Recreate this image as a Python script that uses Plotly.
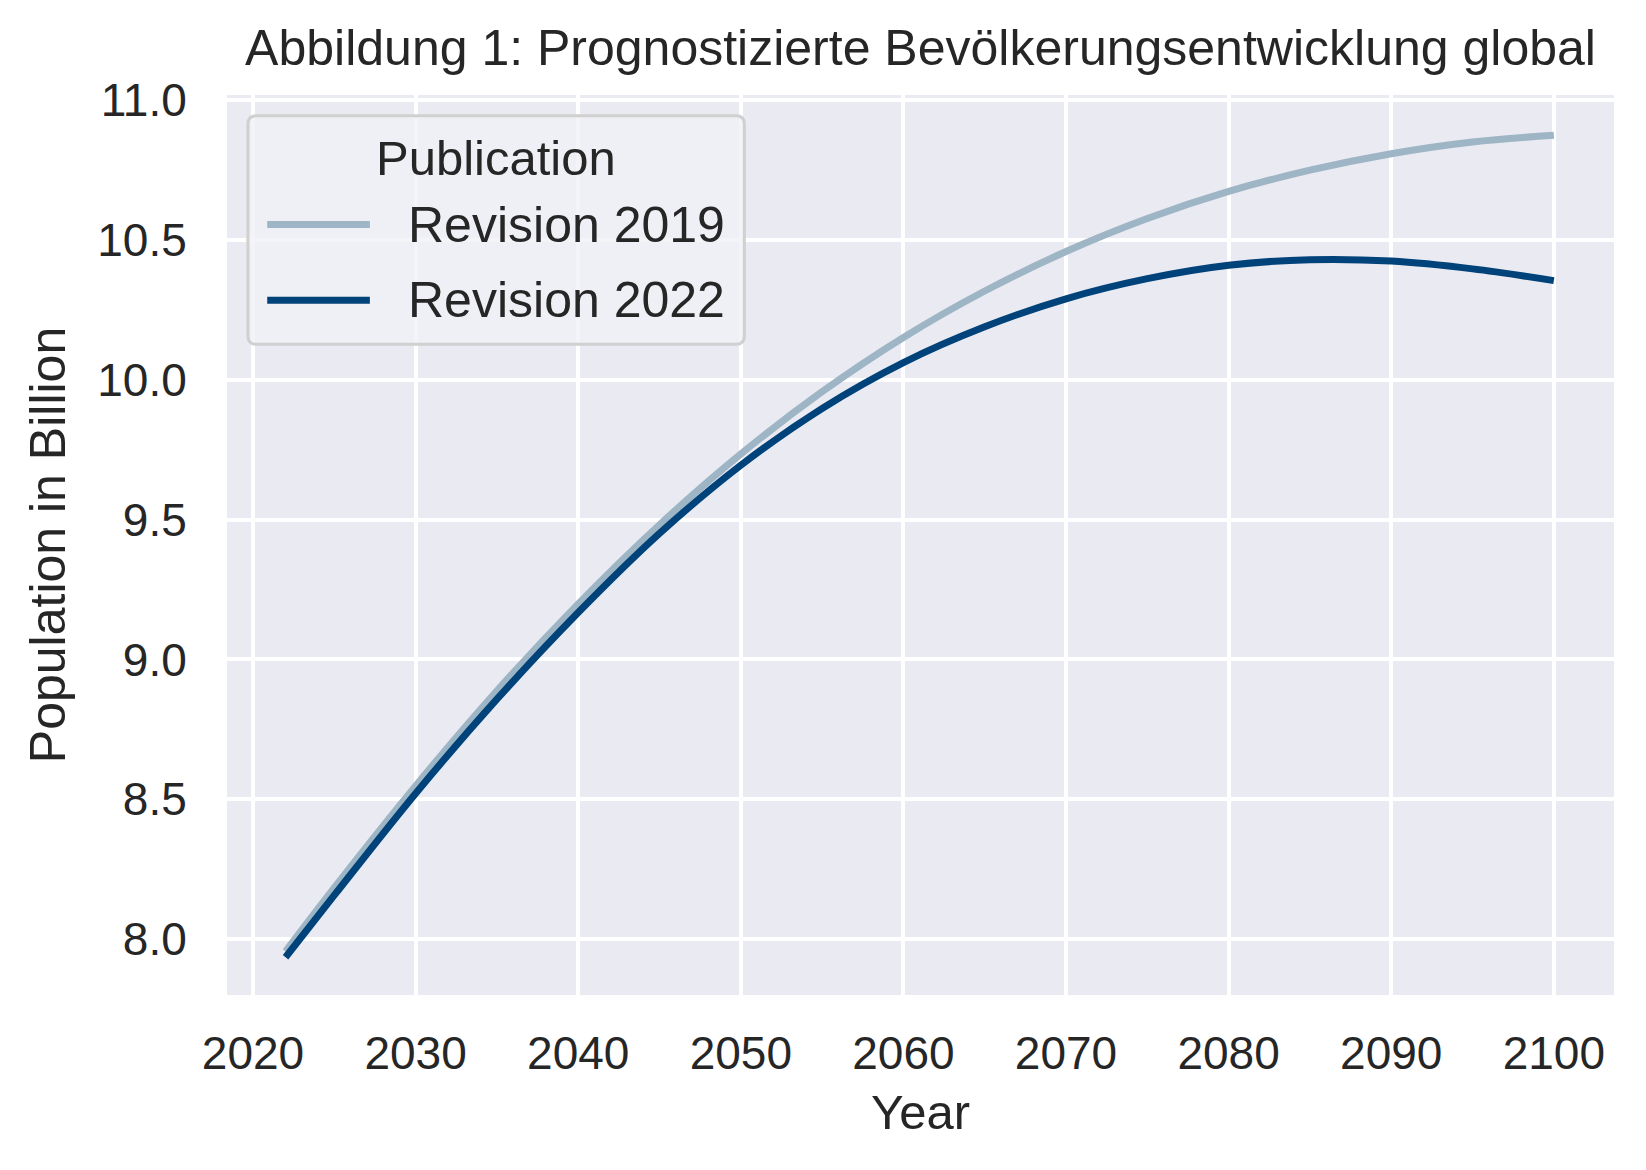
import plotly.graph_objects as go

# UN World Population Prospects, medium variant (billions)
years = [2022, 2025, 2030, 2035, 2040, 2045, 2050, 2055, 2060, 2065,
         2070, 2075, 2080, 2085, 2090, 2095, 2100]
rev_2019 = [7.956, 8.184, 8.548, 8.888, 9.199, 9.482, 9.735, 9.958, 10.152, 10.318,
            10.459, 10.577, 10.674, 10.750, 10.809, 10.851, 10.875]
rev_2022 = [7.935, 8.157, 8.521, 8.858, 9.168, 9.451, 9.695, 9.898, 10.062, 10.190,
            10.290, 10.362, 10.410, 10.430, 10.425, 10.397, 10.355]

series_names = ["Revision 2019", "Revision 2022"]
series_colors = ["#9db5c4", "#00427a"]

x_ticks = [2020, 2030, 2040, 2050, 2060, 2070, 2080, 2090, 2100]
y_ticks = [8.0, 8.5, 9.0, 9.5, 10.0, 10.5, 11.0]

FONT = "Liberation Sans, Arial, sans-serif"
TEXT = "#262626"

fig = go.Figure()
for name, color, vals in zip(series_names, series_colors, [rev_2019, rev_2022]):
    fig.add_trace(go.Scatter(x=years, y=vals, mode="lines", name=name, showlegend=False,
                             line=dict(color=color, width=7, shape="spline")))


# seaborn-like legend box (rounded corners), drawn in paper coords
def rounded_rect(x0, y0, x1, y1, rx, ry):
    return (f"M{x0 + rx},{y0} L{x1 - rx},{y0} Q{x1},{y0} {x1},{y0 + ry} "
            f"L{x1},{y1 - ry} Q{x1},{y1} {x1 - rx},{y1} "
            f"L{x0 + rx},{y1} Q{x0},{y1} {x0},{y1 - ry} "
            f"L{x0},{y0 + ry} Q{x0},{y0} {x0 + rx},{y0} Z")


fig.add_shape(type="path", xref="paper", yref="paper",
              path=rounded_rect(0.0151, 0.723, 0.373, 0.977, 0.006, 0.009),
              fillcolor="rgba(240,240,246,0.8)", line=dict(color="#d0d0d0", width=3))
fig.add_annotation(text="Publication", xref="paper", yref="paper", x=0.1936, y=0.930,
                   xanchor="center", yanchor="middle", showarrow=False,
                   font=dict(size=49, color=TEXT))
for i, (name, color) in enumerate(zip(series_names, series_colors)):
    yy = 0.856 - i * 0.084
    fig.add_shape(type="line", xref="paper", yref="paper", x0=0.029, x1=0.103, y0=yy, y1=yy,
                  line=dict(color=color, width=7))
    fig.add_annotation(text=name, xref="paper", yref="paper", x=0.1288, y=yy,
                       xanchor="left", yanchor="middle", showarrow=False,
                       font=dict(size=50, color=TEXT))

fig.update_layout(
    width=1646, height=1170,
    margin=dict(l=219, r=40, t=87, b=183),
    paper_bgcolor="white",
    plot_bgcolor="#eaeaf2",
    font=dict(family=FONT, color=TEXT, size=46),
    title=dict(text="Abbildung 1: Prognostizierte Bevölkerungsentwicklung global",
               x=0.5, xref="paper", xanchor="center", y=0.966, yanchor="middle",
               font=dict(size=50, color=TEXT)),
    showlegend=False,
)

fig.update_xaxes(
    range=[2018.4, 2103.7],
    tickvals=x_ticks,
    ticktext=[str(t) for t in x_ticks],
    showgrid=True, gridcolor="white", gridwidth=4,
    zeroline=False, showline=False,
    ticks="outside", ticklen=18, tickcolor="rgba(0,0,0,0)",
    tickfont=dict(size=46),
    title=dict(text="Year", font=dict(size=49), standoff=16),
)
fig.update_yaxes(
    range=[7.80, 11.019],
    tickvals=y_ticks,
    ticktext=[f"{t:.1f}" for t in y_ticks],
    showgrid=True, gridcolor="white", gridwidth=4,
    zeroline=False, showline=False,
    ticks="outside", ticklen=30, tickcolor="rgba(0,0,0,0)",
    tickfont=dict(size=46),
    title=dict(text="Population in Billion", font=dict(size=50), standoff=15),
)

fig.write_html("out.html")
